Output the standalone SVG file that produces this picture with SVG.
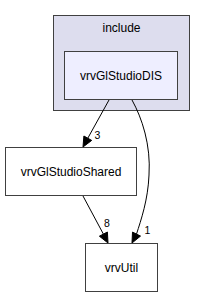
<svg xmlns="http://www.w3.org/2000/svg" width="205" height="297" viewBox="0 0 205 297">
<style>
text{font-family:"Liberation Sans",Arial,sans-serif;font-size:12px;fill:#000;text-anchor:middle}
.lbl{text-anchor:start;font-size:10.5px}
.box{stroke:#404040;stroke-width:1}
.edge{fill:none;stroke:#000;stroke-width:1}
.head{fill:#000;stroke:#000;stroke-width:1}
</style>
<rect width="205" height="297" fill="#fff"/>
<g id="cluster_include">
<rect class="box" x="53.5" y="15.5" width="136" height="95" fill="#ddddee"/>
<text x="121.5" y="32">include</text>
</g>
<g id="node_vrvGlStudioDIS">
<rect class="box" x="64.5" y="51.5" width="113" height="48" fill="#eeeeff"/>
<text x="121" y="80">vrvGlStudioDIS</text>
</g>
<g id="node_vrvGlStudioShared">
<rect class="box" x="5.5" y="147.5" width="131" height="48" fill="#ffffff"/>
<text x="71" y="176">vrvGlStudioShared</text>
</g>
<g id="node_vrvUtil">
<rect class="box" x="85.5" y="243.5" width="72" height="48" fill="#ffffff"/>
<text x="121.5" y="272">vrvUtil</text>
</g>
<g id="connectors">
<path class="edge" d="M109,100 L87.8,138.2"/>
<polygon class="head" points="91.7,140.4 83.9,136 83,147"/>
<text class="lbl" x="94.5" y="139">3</text>
<path class="edge" d="M83,196 L103.4,234.1"/>
<polygon class="head" points="107.4,232 99.4,236.2 108,243"/>
<text class="lbl" x="104" y="227">8</text>
<path class="edge" d="M132,100 C142,118 151,145 149,175 C148,200 141,220 136.5,234.1"/>
<polygon class="head" points="140.5,236.1 132.5,232.1 132,243"/>
<text class="lbl" x="144.5" y="233.5">1</text>
</g>
</svg>
